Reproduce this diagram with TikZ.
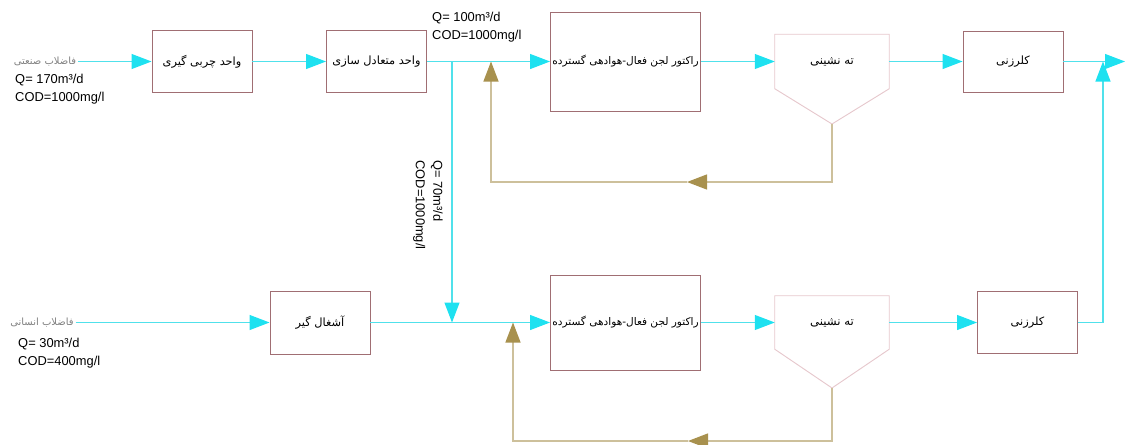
\documentclass[tikz,border=0pt]{standalone}
\usepackage{fontspec}
\setmainfont{Liberation Sans}
\newfontfamily\arabicfont[Script=Arabic]{DejaVu Sans}
\TeXXeTstate=1
\usetikzlibrary{arrows.meta}
\definecolor{flowcyan}{RGB}{80,225,235}
\definecolor{tipcyan}{RGB}{30,225,240}
\definecolor{sludgeline}{RGB}{205,192,155}
\definecolor{sludgetip}{RGB}{168,145,78}
\definecolor{boxrose}{RGB}{160,110,115}
\definecolor{settpink}{RGB}{230,200,205}
\newcommand{\fa}[1]{{\arabicfont\beginR #1\endR}}
\begin{document}
\begin{tikzpicture}[x=0.03cm,y=-0.03cm,
  unitbox/.style={draw=boxrose,line width=0.8pt,minimum width=3cm,minimum height=1.86cm,inner sep=0pt,font=\fontsize{9.7}{12}\selectfont},
  reactor/.style={unitbox,minimum width=4.5cm,font=\fontsize{9}{11}\selectfont},
  tank/.style={minimum width=3.42cm,minimum height=1.62cm,inner sep=0pt,font=\fontsize{10}{12}\selectfont},
  flow/.style={draw=flowcyan,line width=1pt,-{Triangle[length=0.6cm,width=0.45cm,color=tipcyan,fill=tipcyan]}},
  sludge/.style={draw=sludgeline,line width=1pt,-{Triangle[length=0.6cm,width=0.45cm,color=sludgetip,fill=sludgetip]}},
  source/.style={text=gray,font=\fontsize{8.5}{10}\selectfont,inner sep=1.5pt},
  datalabel/.style={align=left,font=\fontsize{11}{13}\selectfont,inner sep=0pt}]
\useasboundingbox (0,0) rectangle (1134,445);
% top line: industrial wastewater
\node[source] (inA) at (45,61.5) {\fa{فاضلاب صنعتی}};
\node[datalabel,anchor=north west] (dataA) at (15,74) {Q= 170m³/d\\[2pt]COD=1000mg/l};
\node[unitbox] (fat) at (202,61.5) {\fa{واحد چربی گیری}};
\node[unitbox] (eq) at (376.5,61.5) {\fa{واحد متعادل سازی}};
\node[datalabel,anchor=north west] (dataR) at (432,12) {Q= 100m³/d\\[2pt]COD=1000mg/l};
\node[reactor,minimum height=2.97cm] (reacA) at (625.5,61.5) {\fa{راکتور لجن فعال-هوادهی گسترده}};
\node[tank] (settA) at (832,61.5) {\fa{ته نشینی}};
\coordinate (settAtip) at (832,124);
\draw[settpink,line width=0.8pt] (settA.north west) -- (settA.north east) -- (settA.south east) -- (settAtip) -- (settA.south west) -- cycle;
\node[unitbox,minimum height=1.83cm] (chlA) at (1013,61.5) {\fa{کلرزنی}};
\coordinate (outA) at (1125,61.5);
\coordinate (split) at (452,61.5);
\coordinate (retA) at (491,61.5);
\coordinate (retAmid) at (687,182);
\coordinate (merge) at (1103,61.5);
% bottom line: domestic wastewater
\node[source] (inB) at (42,322.5) {\fa{فاضلاب انسانی}};
\node[datalabel,anchor=north west] (dataB) at (18,338) {Q= 30m³/d\\[2pt]COD=400mg/l};
\node[unitbox,minimum height=1.89cm] (screen) at (320,322.5) {\fa{آشغال گیر}};
\node[reactor,minimum height=2.85cm] (reacB) at (625.5,322.5) {\fa{راکتور لجن فعال-هوادهی گسترده}};
\node[tank,minimum height=1.59cm] (settB) at (832,322.5) {\fa{ته نشینی}};
\coordinate (settBtip) at (832,388);
\draw[settpink,line width=0.8pt] (settB.north west) -- (settB.north east) -- (settB.south east) -- (settBtip) -- (settB.south west) -- cycle;
\node[unitbox] (chlB) at (1027.5,322.5) {\fa{کلرزنی}};
\coordinate (splitB) at (452,322.5);
\coordinate (retB) at (513,322.5);
\coordinate (retBmid) at (688,441);
% branch label
\node[datalabel,rotate=-90] (dataS) at (428,205) {Q= 70m³/d\\[2pt]COD=1000mg/l};
% main flow
\draw[flow] (inA) -- (fat);
\draw[flow] (fat) -- (eq);
\draw[flow] (eq) -- (reacA);
\draw[flow] (reacA) -- (settA);
\draw[flow] (settA) -- (chlA);
\draw[flow] (chlA) -- (outA);
\draw[flow] (split) -- (splitB);
\draw[flow] (inB) -- (screen);
\draw[flow] (screen) -- (reacB);
\draw[flow] (reacB) -- (settB);
\draw[flow] (settB) -- (chlB);
\draw[flow] (chlB) -| (merge);
% sludge return
\draw[sludge] (settAtip) |- (retAmid);
\draw[sludge] (retAmid) -| (retA);
\draw[sludge] (settBtip) |- (retBmid);
\draw[sludge] (retBmid) -| (retB);
\end{tikzpicture}
\end{document}
